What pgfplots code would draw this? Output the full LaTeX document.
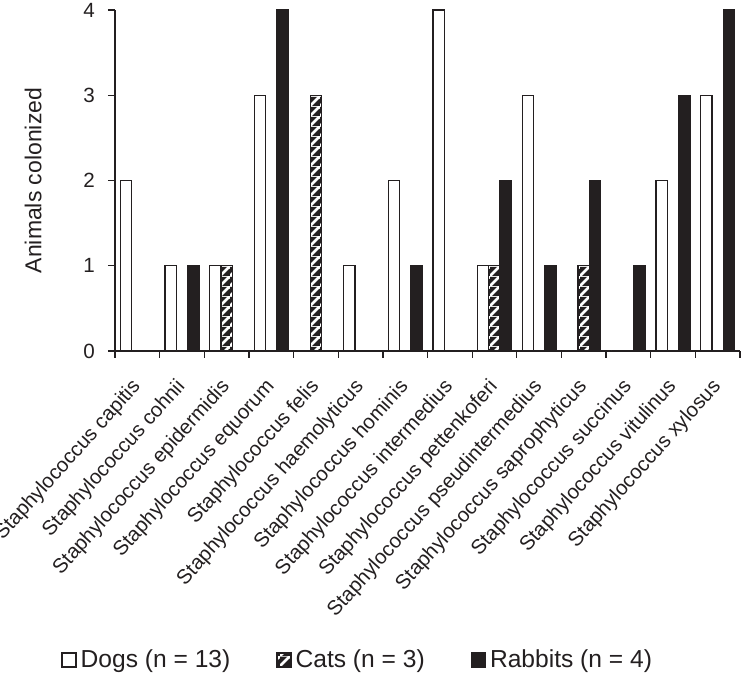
\documentclass[border=0pt]{standalone}
\usepackage{fontspec}
\setmainfont{Liberation Sans}
\usepackage{pgfplots}
\pgfplotsset{compat=1.18}
\usetikzlibrary{patterns,calc}
\definecolor{ink}{HTML}{231F20}
\pgfdeclarepatterninherentlycolored{catpat}{\pgfpointorigin}{\pgfpoint{5pt}{5pt}}{\pgfpoint{5pt}{5pt}}{%
  \pgfsetfillcolor{ink}%
  \pgfpathrectangle{\pgfpointorigin}{\pgfpoint{5pt}{5pt}}\pgfusepath{fill}%
  \pgfsetstrokecolor{white}\pgfsetlinewidth{1.4pt}%
  \pgfpathmoveto{\pgfpoint{-1pt}{-1pt}}\pgfpathlineto{\pgfpoint{6pt}{6pt}}\pgfusepath{stroke}%
}
\pgfplotstableread{
x dogs cats rabbits
1 2 0 0
2 1 0 1
3 1 1 0
4 3 0 4
5 0 3 0
6 1 0 0
7 2 0 1
8 4 0 0
9 1 1 2
10 3 0 1
11 0 1 2
12 0 0 1
13 2 0 3
14 3 0 4
}\datatable
\begin{document}
\begin{tikzpicture}
\begin{axis}[
  name=ax,
  scale only axis,
  width=312.5pt, height=170.5pt,
  font=\fontsize{11}{13}\selectfont,
  xmin=0.5, xmax=14.5, ymin=0, ymax=4,
  axis x line*=bottom, axis y line*=left,
  axis line style={ink, line width=0.65pt},
  every tick/.style={ink, line width=0.65pt},
  tick align=outside, major tick length=3.5pt,
  ytick={0,1,2,3,4},
  /pgf/number format/assume math mode=true,
  x tick label as interval,
  xtick={0.5,1.5,...,14.5},
  xticklabels={Staphylococcus capitis, Staphylococcus cohnii, Staphylococcus epidermidis, Staphylococcus equorum, Staphylococcus felis, Staphylococcus haemolyticus, Staphylococcus hominis, Staphylococcus intermedius, Staphylococcus pettenkoferi, Staphylococcus pseudintermedius, Staphylococcus saprophyticus, Staphylococcus succinus, Staphylococcus vitulinus, Staphylococcus xylosus},
  x tick label style={xshift=2pt, yshift=-14.5pt, rotate=48, anchor=base east, inner sep=0pt, font=\fontsize{10.2}{12}\selectfont, text=ink},
  y tick label style={text=ink, font=\fontsize{10.3}{12}\selectfont, xshift=-3pt},
  ylabel={Animals colonized},
  ylabel style={at={(axis description cs:-0.131,0.5)}, anchor=center, text=ink, font=\fontsize{11.5}{13}\selectfont},
  ybar, bar width=0.253,
  legend columns=3,
  legend style={at={(axis description cs:0.39,-0.906)}, anchor=center, draw=none, fill=none,
    font=\fontsize{12.3}{14}\selectfont,
    /tikz/every even column/.append style={column sep=21pt}, text=ink},
  legend cell align=left,
]
\addplot[bar shift=-0.253, draw=ink, fill=white, line width=0.65pt,
  legend image code/.code={\draw[ink, fill=white, line width=0.6pt] (0pt,-3.5pt) rectangle (7pt,3.5pt);}]
  table[x=x, y=dogs] {\datatable};
\addlegendentry{Dogs (n = 13)}
\addplot[bar shift=0, draw=ink, pattern=catpat, line width=0.65pt,
  legend image code/.code={\draw[ink, pattern=catpat, line width=0.6pt] (0pt,-3.5pt) rectangle (7pt,3.5pt);}]
  table[x=x, y=cats] {\datatable};
\addlegendentry{Cats (n = 3)}
\addplot[bar shift=0.253, draw=ink, fill=ink, line width=0.65pt,
  legend image code/.code={\draw[ink, fill=ink, line width=0.6pt] (0pt,-3.5pt) rectangle (7pt,3.5pt);}]
  table[x=x, y=rabbits] {\datatable};
\addlegendentry{Rabbits (n = 4)}
\end{axis}
\pgfresetboundingbox
\useasboundingbox ($(ax.south west)+(-57.5pt,-162.5pt)$) rectangle ($(ax.north east)+(0.5pt,5pt)$);
\end{tikzpicture}
\end{document}
